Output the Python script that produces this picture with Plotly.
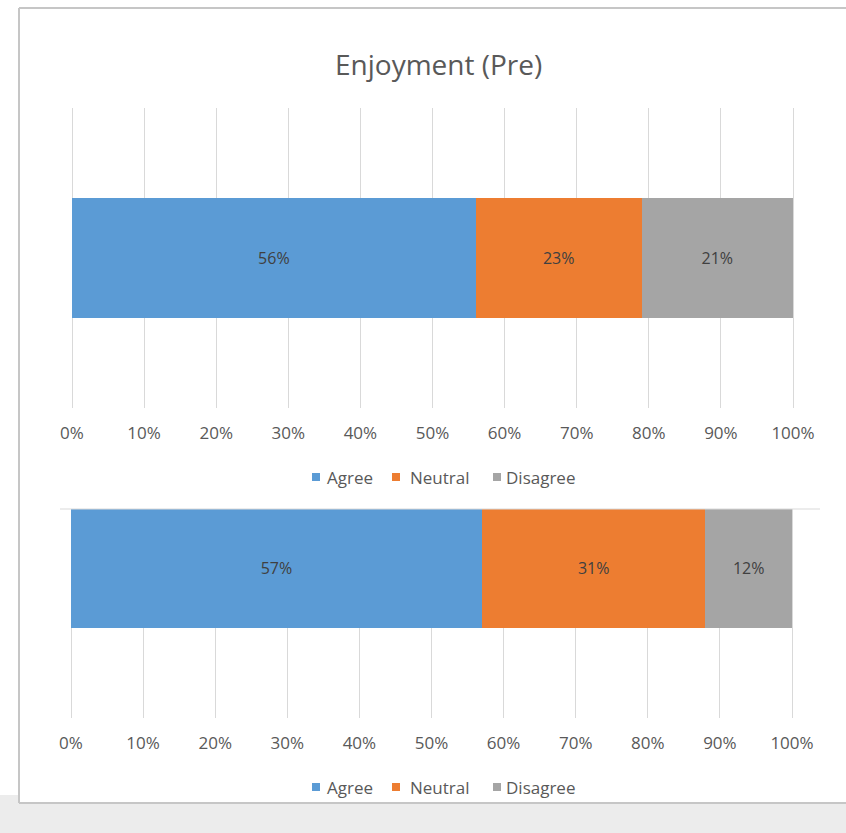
import plotly.graph_objects as go

W, H = 846, 833

series = ["Agree", "Neutral", "Disagree"]
colors = ["#5b9bd5", "#ed7d31", "#a5a5a5"]
pre_values = [56, 23, 21]
post_values = [57, 31, 12]
tick_vals = [0, 10, 20, 30, 40, 50, 60, 70, 80, 90, 100]
tick_text = [f"{v}%" for v in tick_vals]
title_text = "Enjoyment (Pre)"

FONT = "Open Sans"
fig = go.Figure()

for name, col, v in zip(series, colors, pre_values):
    fig.add_trace(go.Bar(
        y=["Pre"], x=[v], name=name, orientation="h",
        marker=dict(color=col, line=dict(width=0)),
        text=[f"{v}%"], textposition="inside", insidetextanchor="middle",
        textfont=dict(color="#404040", size=16, family=FONT),
        xaxis="x", yaxis="y", showlegend=False, hoverinfo="skip",
    ))
for name, col, v in zip(series, colors, post_values):
    fig.add_trace(go.Bar(
        y=["Post"], x=[v], name=name, orientation="h",
        marker=dict(color=col, line=dict(width=0)),
        text=[f"{v}%"], textposition="inside", insidetextanchor="middle",
        textfont=dict(color="#404040", size=16, family=FONT),
        xaxis="x2", yaxis="y2", showlegend=False, hoverinfo="skip",
    ))

def px_x(p):
    return p / W

def px_y(p):
    return 1 - p / H

U = 100 / 721  # value units per pixel
PAD = 4        # extra pixels each side so edge gridlines are drawn
xcommon = dict(
    range=[-PAD * U, 100 + PAD * U], tickvals=tick_vals, ticktext=tick_text,
    showgrid=True, gridcolor="#d9d9d9", gridwidth=1,
    zeroline=False, showline=False, ticks="", automargin=False,
    tickfont=dict(size=17, color="#595959", family=FONT),
    ticklabelstandoff=13, fixedrange=True,
)
fig.update_layout(
    width=W, height=H, autosize=False,
    margin=dict(l=0, r=0, t=0, b=0, autoexpand=False),
    paper_bgcolor="white", plot_bgcolor="white",
    barmode="stack", bargap=0.6,
    font=dict(family=FONT, color="#595959"),
    xaxis=dict(domain=[px_x(72 - PAD), px_x(793 + PAD)], anchor="y", **xcommon),
    yaxis=dict(domain=[px_y(408), px_y(108)], range=[-0.5, 0.5], automargin=False,
               showticklabels=False, showgrid=False, zeroline=False, anchor="x"),
    xaxis2=dict(domain=[px_x(71 - PAD), px_x(792 + PAD)], anchor="y2", **xcommon),
    yaxis2=dict(domain=[px_y(718), px_y(509)], range=[-0.5, 0.5 - (300 - 209) / 300],
                automargin=False,
                showticklabels=False, showgrid=False, zeroline=False, anchor="x2"),
    showlegend=False,
)

fig.add_annotation(text=title_text, x=px_x(438), y=px_y(64), xref="paper", yref="paper",
                   xanchor="center", yanchor="middle", showarrow=False,
                   font=dict(size=28, color="#595959", family=FONT))

# legends (one under each chart)
legend_sq_x = [312, 392, 493]
legend_tx_x = [325, 408, 504]
for ly in [477, 787]:
    for name, col, sx, tx in zip(series, colors, legend_sq_x, legend_tx_x):
        fig.add_shape(type="rect", xref="paper", yref="paper",
                      x0=px_x(sx), x1=px_x(sx + 8), y0=px_y(ly + 4), y1=px_y(ly - 4),
                      fillcolor=col, line=dict(width=0))
        fig.add_annotation(text=name, x=px_x(tx), y=px_y(ly), xref="paper", yref="paper",
                           xanchor="left", yanchor="middle", showarrow=False,
                           font=dict(size=17, color="#595959", family=FONT))

# screenshot frame elements
fig.add_shape(type="rect", xref="paper", yref="paper", x0=0, x1=1, y0=0, y1=px_y(803),
              fillcolor="#ececec", line=dict(width=0), layer="below")
fig.add_shape(type="rect", xref="paper", yref="paper", x0=0, x1=px_x(19), y0=0, y1=px_y(795),
              fillcolor="#ececec", line=dict(width=0), layer="below")
fig.add_shape(type="line", xref="paper", yref="paper", x0=px_x(19), x1=1, y0=px_y(8), y1=px_y(8),
              line=dict(color="#c6c6c6", width=2))
fig.add_shape(type="line", xref="paper", yref="paper", x0=px_x(19), x1=px_x(19), y0=px_y(803), y1=px_y(8),
              line=dict(color="#c6c6c6", width=2))
fig.add_shape(type="line", xref="paper", yref="paper", x0=px_x(19), x1=1, y0=px_y(803), y1=px_y(803),
              line=dict(color="#c6c6c6", width=2))
fig.add_shape(type="line", xref="paper", yref="paper", x0=px_x(60), x1=px_x(820), y0=px_y(509), y1=px_y(509),
              line=dict(color="#d9d9d9", width=1))

fig.write_html("out.html", config={"responsive": False, "displayModeBar": False})
